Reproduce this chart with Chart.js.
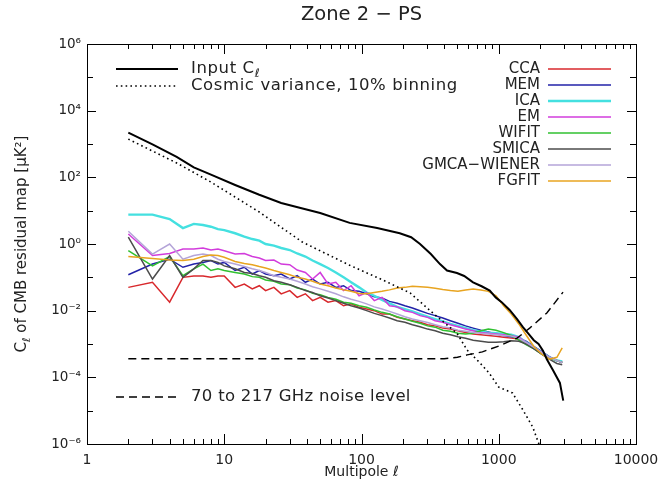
<!DOCTYPE html>
<html>
<head>
<meta charset="utf-8">
<script src="https://cdn.jsdelivr.net/npm/chart.js@4.4.0/dist/chart.umd.min.js"></script>
<style>
  html, body { margin: 0; padding: 0; background: #fff; }
  canvas { display: block; }
</style>
</head>
<body>
<canvas id="chart" width="663" height="481"></canvas>
<script>
// multipoles of the residual spectra
const ell = [2, 3, 4, 5, 6, 7, 8, 9, 10, 12, 14, 16, 18, 20, 23, 26, 30, 34, 39, 44, 50, 57, 65, 74, 84, 96, 109, 124, 141, 160, 182, 207, 235, 267, 303, 344, 391, 444, 504, 573, 651, 740, 840, 955, 1085, 1233, 1400, 1591, 1808, 2054, 2334, 2652, 2900]

const cca = [5.0e-2, 7.1e-2, 1.8e-2, 1.0e-1, 1.1e-1, 1.1e-1, 1.0e-1, 1.1e-1, 1.1e-1, 5.0e-2, 6.3e-2, 4.5e-2, 5.6e-2, 4.0e-2, 5.0e-2, 3.2e-2, 4.0e-2, 2.5e-2, 3.2e-2, 2.0e-2, 2.5e-2, 1.8e-2, 2.0e-2, 1.4e-2, 1.6e-2, 1.26e-2, 1.12e-2, 1.0e-2, 7.9e-3, 7.9e-3, 6.3e-3, 5.6e-3, 5.0e-3, 4.5e-3, 3.8e-3, 3.5e-3, 3.0e-3, 2.8e-3, 2.5e-3, 2.2e-3, 2.0e-3, 1.9e-3, 1.8e-3, 1.7e-3, 1.6e-3, 1.5e-3, 1.4e-3, 1.1e-3, 7.9e-4, 5.6e-4, 4.0e-4, 3.2e-4, 2.8e-4]
const mem = [1.2e-1, 2.5e-1, 3.5e-1, 2.0e-1, 2.5e-1, 2.8e-1, 3.2e-1, 2.5e-1, 2.8e-1, 1.6e-1, 2.0e-1, 1.26e-1, 1.6e-1, 1.26e-1, 1.12e-1, 1.26e-1, 8.9e-2, 1.12e-1, 7.1e-2, 8.9e-2, 6.3e-2, 7.1e-2, 5.0e-2, 5.6e-2, 4.0e-2, 3.8e-2, 3.2e-2, 2.6e-2, 2.4e-2, 1.9e-2, 1.66e-2, 1.4e-2, 1.2e-2, 1.0e-2, 8.3e-3, 7.1e-3, 6.0e-3, 5.0e-3, 4.2e-3, 3.5e-3, 3.0e-3, 2.6e-3, 2.3e-3, 2.0e-3, 1.8e-3, 1.66e-3, 1.5e-3, 1.2e-3, 8.3e-4, 6.0e-4, 4.2e-4, 3.2e-4, 2.8e-4]
const ica = [7.6, 7.6, 5.6, 3.0, 4.0, 3.7, 3.3, 2.8, 2.6, 2.1, 1.66, 1.41, 1.26, 1.0, 8.9e-1, 7.6e-1, 6.6e-1, 5.2e-1, 4.2e-1, 3.2e-1, 2.5e-1, 1.9e-1, 1.4e-1, 1.0e-1, 7.1e-2, 5.0e-2, 3.5e-2, 2.8e-2, 2.1e-2, 1.66e-2, 1.3e-2, 1.12e-2, 9.5e-3, 7.9e-3, 6.6e-3, 5.6e-3, 4.8e-3, 4.0e-3, 3.5e-3, 3.0e-3, 2.6e-3, 2.4e-3, 2.2e-3, 2.1e-3, 2.0e-3, 1.9e-3, 1.6e-3, 1.1e-3, 7.9e-4, 5.6e-4, 4.0e-4, 3.2e-4, 3.0e-4]
const em = [2.0, 4.5e-1, 5.2e-1, 7.1e-1, 7.1e-1, 7.6e-1, 6.6e-1, 7.1e-1, 6.3e-1, 5.0e-1, 5.2e-1, 4.2e-1, 3.8e-1, 3.2e-1, 3.3e-1, 2.5e-1, 2.4e-1, 1.66e-1, 1.4e-1, 8.9e-2, 1.4e-1, 6.3e-2, 7.1e-2, 4.0e-2, 5.6e-2, 2.8e-2, 3.5e-2, 2.0e-2, 2.5e-2, 1.4e-2, 1.3e-2, 1.0e-2, 8.9e-3, 7.1e-3, 6.3e-3, 5.0e-3, 4.5e-3, 3.8e-3, 3.3e-3, 2.8e-3, 2.5e-3, 2.2e-3, 2.1e-3, 2.0e-3, 1.9e-3, 1.8e-3, 1.6e-3, 1.1e-3, 7.9e-4, 5.6e-4, 4.0e-4, 3.2e-4, 2.8e-4]
const wifit = [6.3e-1, 2.2e-1, 4.2e-1, 1.12e-1, 1.8e-1, 2.5e-1, 1.6e-1, 1.8e-1, 1.6e-1, 1.4e-1, 1.26e-1, 1.05e-1, 1.0e-1, 8.3e-2, 7.6e-2, 6.3e-2, 6.0e-2, 4.8e-2, 4.2e-2, 3.3e-2, 3.0e-2, 2.5e-2, 2.2e-2, 1.8e-2, 1.66e-2, 1.4e-2, 1.26e-2, 1.05e-2, 8.9e-3, 7.9e-3, 6.6e-3, 5.6e-3, 4.8e-3, 4.2e-3, 3.5e-3, 3.2e-3, 2.6e-3, 2.4e-3, 2.1e-3, 2.0e-3, 2.1e-3, 2.5e-3, 2.8e-3, 2.6e-3, 2.2e-3, 1.8e-3, 1.3e-3, 9.5e-4, 7.1e-4, 5.0e-4, 3.8e-4, 3.2e-4, 2.8e-4]
const smica = [1.6, 8.9e-2, 4.5e-1, 1.0e-1, 1.8e-1, 3.2e-1, 3.2e-1, 2.8e-1, 2.2e-1, 1.8e-1, 1.4e-1, 1.3e-1, 1.12e-1, 1.0e-1, 7.9e-2, 7.1e-2, 6.0e-2, 5.0e-2, 4.0e-2, 3.5e-2, 2.8e-2, 2.4e-2, 2.0e-2, 1.66e-2, 1.4e-2, 1.2e-2, 1.0e-2, 8.3e-3, 7.1e-3, 6.0e-3, 5.0e-3, 4.5e-3, 3.8e-3, 3.3e-3, 2.8e-3, 2.5e-3, 2.1e-3, 1.9e-3, 1.66e-3, 1.48e-3, 1.3e-3, 1.2e-3, 1.12e-3, 1.12e-3, 1.17e-3, 1.26e-3, 1.2e-3, 1.0e-3, 7.1e-4, 5.0e-4, 3.5e-4, 2.6e-4, 2.4e-4]
const gmca = [2.4, 5.0e-1, 1.0, 3.5e-1, 4.5e-1, 5.0e-1, 4.5e-1, 3.5e-1, 3.0e-1, 2.5e-1, 2.1e-1, 1.8e-1, 1.6e-1, 1.4e-1, 1.12e-1, 1.0e-1, 8.9e-2, 7.6e-2, 6.3e-2, 5.2e-2, 4.5e-2, 3.8e-2, 3.2e-2, 2.6e-2, 2.2e-2, 1.9e-2, 1.6e-2, 1.3e-2, 1.12e-2, 9.5e-3, 7.9e-3, 6.6e-3, 5.6e-3, 5.0e-3, 4.4e-3, 3.8e-3, 3.3e-3, 3.0e-3, 2.6e-3, 2.4e-3, 2.2e-3, 2.1e-3, 2.0e-3, 1.9e-3, 1.8e-3, 1.74e-3, 1.5e-3, 1.1e-3, 7.9e-4, 5.6e-4, 4.0e-4, 3.2e-4, 2.8e-4]
const fgfit = [4.2e-1, 3.7e-1, 3.3e-1, 3.2e-1, 3.5e-1, 4.2e-1, 4.7e-1, 4.5e-1, 4.0e-1, 3.0e-1, 2.6e-1, 2.4e-1, 2.1e-1, 1.9e-1, 1.6e-1, 1.4e-1, 1.2e-1, 1.0e-1, 8.9e-2, 7.6e-2, 6.3e-2, 5.6e-2, 4.8e-2, 4.2e-2, 3.8e-2, 3.3e-2, 3.2e-2, 3.5e-2, 3.8e-2, 4.2e-2, 4.8e-2, 5.0e-2, 5.4e-2, 5.2e-2, 5.0e-2, 4.7e-2, 4.3e-2, 4.0e-2, 3.8e-2, 4.2e-2, 4.5e-2, 4.2e-2, 3.8e-2, 2.8e-2, 1.4e-2, 7.9e-3, 4.0e-3, 1.8e-3, 8.3e-4, 5.0e-4, 3.5e-4, 4.0e-4, 7.6e-4]

// input CMB spectrum
const ellInput = [2, 3, 4.5, 6, 8, 12, 18, 26, 36, 50, 82, 130, 190, 230, 267, 320, 373, 420, 496, 560, 650, 750, 860, 950, 1050, 1200, 1360, 1500, 1650, 1800, 1950, 2100, 2240, 2480, 2790, 2950]
const inputCl = [2.2e3, 9.8e2, 4.1e2, 2.0e2, 1.2e2, 5.9e1, 3.0e1, 1.7e1, 1.2e1, 8.5, 4.3, 3.0, 2.1, 1.6, 1.0, 5.0e-1, 2.5e-1, 1.6e-1, 1.35e-1, 1.1e-1, 7.1e-2, 5.4e-2, 4.0e-2, 2.5e-2, 1.8e-2, 1.05e-2, 5.6e-3, 3.2e-3, 2.0e-3, 1.3e-3, 1.0e-3, 6.3e-4, 3.5e-4, 1.66e-4, 6.8e-5, 2.0e-5]

// cosmic variance, 10% binning
const ellCosmic = [2, 4.5, 8, 18, 37, 82, 143, 226, 331, 496, 588, 730, 850, 1000, 1260, 1500, 1770, 2000]
const cosmicVar = [1.4e3, 2.7e2, 7.2e1, 9.1, 1.15, 2.3e-1, 8.3e-2, 3.4e-2, 8.5e-3, 2.1e-3, 6.6e-4, 2.7e-4, 1.35e-4, 5.1e-5, 3.4e-5, 1.05e-5, 3.2e-6, 8e-7]

// noise level
const ellNoise = [2, 100, 400, 500, 588, 760, 1000, 1360, 1680, 2240, 2940]
const noiseLevel = [3.6e-4, 3.6e-4, 3.6e-4, 4.0e-4, 4.7e-4, 5.8e-4, 8.7e-4, 1.5e-3, 3.0e-3, 8.5e-3, 3.6e-2]

const xTickValues = [1, 10, 100, 1000, 10000]
const yTickValues = [1e-6, 1e-4, 1e-2, 1, 1e2, 1e4, 1e6]
const yTickLabels = ['10⁻⁶', '10⁻⁴', '10⁻²', '10⁰', '10²', '10⁴', '10⁶']

const FONT = "'DejaVu Sans', Verdana, sans-serif"
const INK = '#222'

const pts = (xs, ys) => xs.map((x, i) => ({ x: x, y: ys[i] }))

const methods = [
  { label: 'CCA', data: cca, color: '#d8282c' },
  { label: 'MEM', data: mem, color: '#2222a8' },
  { label: 'ICA', data: ica, color: '#44e0e0', width: 2.4 },
  { label: 'EM', data: em, color: '#d23cdc' },
  { label: 'WIFIT', data: wifit, color: '#30c030' },
  { label: 'SMICA', data: smica, color: '#4c4c4c' },
  { label: 'GMCA\u2212WIENER', data: gmca, color: '#b4a4d8' },
  { label: 'FGFIT', data: fgfit, color: '#e8a420' }
]

const datasets = [
  { label: 'Input C_ℓ', data: pts(ellInput, inputCl), borderColor: '#000', borderWidth: 2, box: 'left', order: 0 },
  { label: 'Cosmic variance, 10% binning', data: pts(ellCosmic, cosmicVar), borderColor: '#000', borderWidth: 1.6, borderDash: [1.6, 3.2], box: 'left', order: 1 },
  { label: '70 to 217 GHz noise level', data: pts(ellNoise, noiseLevel), borderColor: '#000', borderWidth: 1.4, borderDash: [8, 5], box: 'bottom', order: 2 }
]
methods.forEach((m, i) => {
  datasets.push({
    label: m.label,
    data: pts(ell, m.data),
    borderColor: m.color,
    borderWidth: m.width || 1.5,
    box: 'right',
    order: 10 - i
  })
})

// draws "C_ℓ" style text, the char after "_" goes as a subscript
function drawRich(ctx, str, x, y, size, align, spacing) {
  const parts = []
  const re = /_(.)/g
  let last = 0
  let m
  while ((m = re.exec(str))) {
    if (m.index > last) parts.push({ t: str.slice(last, m.index), sub: false })
    parts.push({ t: m[1], sub: true })
    last = re.lastIndex
  }
  if (last < str.length) parts.push({ t: str.slice(last), sub: false })
  ctx.letterSpacing = (spacing || 0) + 'px'
  let total = 0
  parts.forEach(p => {
    ctx.font = `${p.sub ? size * 0.72 : size}px ${FONT}`
    p.w = ctx.measureText(p.t).width
    total += p.w
  })
  let cx = align === 'right' ? x - total : align === 'center' ? x - total / 2 : x
  ctx.textAlign = 'left'
  ctx.textBaseline = 'middle'
  parts.forEach(p => {
    ctx.font = `${p.sub ? size * 0.72 : size}px ${FONT}`
    ctx.fillText(p.t, cx, p.sub ? y + size * 0.32 : y)
    cx += p.w
  })
  ctx.letterSpacing = '0px'
}

const frameTicks = {
  id: 'frameTicks',
  afterDraw(chart) {
    const { ctx, chartArea: a, scales: { x, y } } = chart
    ctx.save()
    ctx.strokeStyle = '#000'
    ctx.lineWidth = 1
    ctx.setLineDash([])
    ctx.strokeRect(Math.round(a.left) + 0.5, Math.round(a.top) + 0.5, Math.round(a.right - a.left), Math.round(a.bottom - a.top))
    ctx.beginPath()
    for (let d = 1; d <= 10000; d *= 10) {
      for (let k = 1; k <= 9; k++) {
        const v = k * d
        if (v > 10000) break
        const len = k === 1 ? 10 : 5
        const px = Math.round(x.getPixelForValue(v)) + 0.5
        ctx.moveTo(px, a.bottom); ctx.lineTo(px, a.bottom - len)
        ctx.moveTo(px, a.top); ctx.lineTo(px, a.top + len)
      }
    }
    for (let p = -6; p <= 6; p++) {
      const len = p % 2 === 0 ? 9 : 6
      const py = Math.round(y.getPixelForValue(Math.pow(10, p))) + 0.5
      ctx.moveTo(a.left, py); ctx.lineTo(a.left + len, py)
      ctx.moveTo(a.right, py); ctx.lineTo(a.right - len, py)
    }
    ctx.stroke()
    ctx.restore()
  }
}

const legendBoxes = {
  id: 'legendBoxes',
  afterDraw(chart) {
    const ctx = chart.ctx
    const rows = { left: 0, right: 0, bottom: 0 }
    ctx.save()
    ctx.fillStyle = INK
    chart.data.datasets.forEach(ds => {
      const n = rows[ds.box]++
      let x0, x1, yy, tx, align, size, sp
      if (ds.box === 'left') {
        x0 = 116; x1 = 178; yy = 69 + n * 17; tx = 191; align = 'left'; size = 16.5; sp = 0.6
      } else if (ds.box === 'bottom') {
        x0 = 116; x1 = 178; yy = 397; tx = 191; align = 'left'; size = 16.5; sp = 0.3
      } else {
        x0 = 548; x1 = 611; yy = 69 + n * 16; tx = 540; align = 'right'; size = 15; sp = 0
      }
      ctx.beginPath()
      ctx.strokeStyle = ds.borderColor
      ctx.lineWidth = ds.borderWidth
      ctx.setLineDash(ds.borderDash || [])
      ctx.moveTo(x0, yy); ctx.lineTo(x1, yy)
      ctx.stroke()
      drawRich(ctx, ds.label, tx, yy, size, align, sp)
    })
    // y axis title
    const a = chart.chartArea
    ctx.translate(22, (a.top + a.bottom) / 2)
    ctx.rotate(-Math.PI / 2)
    drawRich(ctx, 'C_ℓ of CMB residual map [μK²]', 0, 0, 15, 'center', 0)
    ctx.restore()
  }
}

new Chart(document.getElementById('chart'), {
  type: 'line',
  data: { datasets: datasets },
  options: {
    responsive: false,
    animation: false,
    devicePixelRatio: 1,
    layout: { padding: { left: 0, right: 27, top: 0, bottom: 0 } },
    elements: { point: { radius: 0 }, line: { tension: 0, fill: false } },
    plugins: {
      legend: { display: false },
      tooltip: { enabled: false },
      title: {
        display: true,
        text: 'Zone 2 \u2212 PS',
        fullSize: false,
        color: INK,
        font: { family: FONT, size: 19.5, weight: 'normal', lineHeight: 1.2 },
        padding: { top: 3, bottom: 17.6 }
      }
    },
    scales: {
      x: {
        type: 'logarithmic',
        min: 1,
        max: 10000,
        grid: { display: false, drawTicks: false },
        border: { display: false },
        afterBuildTicks: s => { s.ticks = xTickValues.map(v => ({ value: v })) },
        afterFit: s => { s.height = 37; s.paddingLeft = 0; s.paddingRight = 0 },
        ticks: {
          callback: v => String(v),
          color: INK,
          font: { family: FONT, size: 14 },
          padding: 8,
          maxRotation: 0,
          autoSkip: false
        },
        title: {
          display: true,
          text: 'Multipole ℓ',
          color: INK,
          font: { family: FONT, size: 14, lineHeight: 1.1 },
          padding: { top: 0, bottom: 1 }
        }
      },
      y: {
        type: 'logarithmic',
        min: 1e-6,
        max: 1e6,
        grid: { display: false, drawTicks: false },
        border: { display: false },
        afterBuildTicks: s => { s.ticks = yTickValues.map(v => ({ value: v })) },
        afterFit: s => { s.width = 87 },
        ticks: {
          callback: (v, i) => yTickLabels[i],
          color: INK,
          font: { family: FONT, size: 13.5 },
          padding: 6,
          autoSkip: false
        }
      }
    }
  },
  plugins: [frameTicks, legendBoxes]
})
</script>
</body>
</html>
